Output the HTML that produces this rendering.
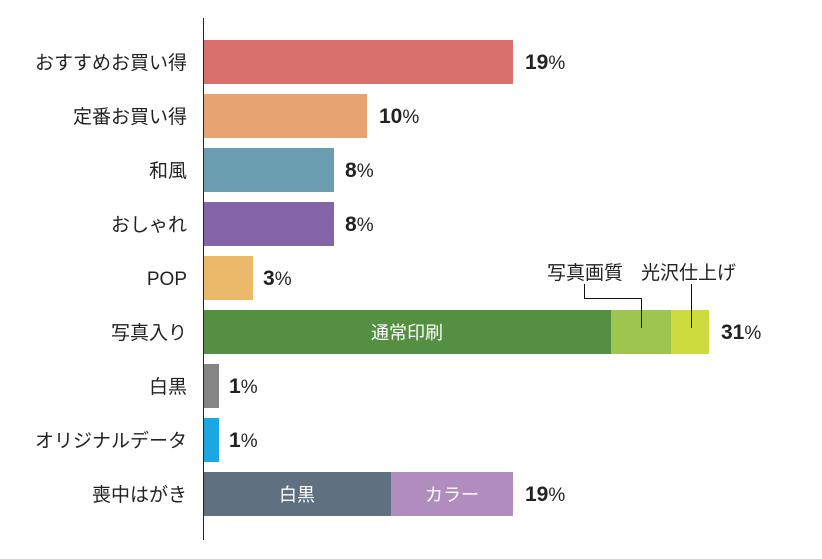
<!DOCTYPE html><html><head><meta charset="utf-8"><style>
body{margin:0;background:#fff;width:822px;height:554px;overflow:hidden}
svg text{font-family:"Liberation Sans","Noto Sans CJK JP",sans-serif}
</style></head><body>
<svg width="822" height="554" xmlns="http://www.w3.org/2000/svg">
<g font-size="19" fill="#222" text-anchor="end">
<text x="187" y="69">おすすめお買い得</text>
<text x="187" y="123">定番お買い得</text>
<text x="187" y="177">和風</text>
<text x="187" y="231">おしゃれ</text>
<text x="187" y="285">POP</text>
<text x="187" y="339">写真入り</text>
<text x="187" y="393">白黒</text>
<text x="187" y="447">オリジナルデータ</text>
<text x="187" y="501">喪中はがき</text>
</g>
<rect x="203" y="40" width="310" height="44" fill="#d9706c"/>
<rect x="203" y="94" width="164" height="44" fill="#e6a472"/>
<rect x="203" y="148" width="131" height="44" fill="#6b9db0"/>
<rect x="203" y="202" width="131" height="44" fill="#8466a8"/>
<rect x="203" y="256" width="50" height="44" fill="#ecb96a"/>
<rect x="203" y="310" width="408" height="44" fill="#558f41"/>
<rect x="611" y="310" width="60" height="44" fill="#9ec64e"/>
<rect x="671" y="310" width="38" height="44" fill="#cddb3e"/>
<rect x="203" y="364" width="16" height="44" fill="#858585"/>
<rect x="203" y="418" width="16" height="44" fill="#1ba7e1"/>
<rect x="203" y="472" width="188" height="44" fill="#5f7180"/>
<rect x="391" y="472" width="122" height="44" fill="#b08cbf"/>
<line x1="203.5" y1="18" x2="203.5" y2="540" stroke="#222" stroke-width="1"/>
<g font-size="18" fill="#fff" text-anchor="middle">
<text x="407" y="339">通常印刷</text>
<text x="297" y="501">白黒</text>
<text x="452" y="501">カラー</text>
</g>
<g font-size="19" fill="#222">
<text x="547" y="279">写真画質</text>
<text x="641" y="279">光沢仕上げ</text>
</g>
<polyline points="584.5,284 584.5,298.5 641.5,298.5 641.5,328" fill="none" stroke="#111" stroke-width="1"/>
<line x1="691.5" y1="284" x2="691.5" y2="328" stroke="#111" stroke-width="1"/>
<g fill="#222" font-size="21" font-weight="bold">
<text x="525" y="69">19<tspan font-size="19" font-weight="normal">%</tspan></text>
<text x="379" y="123">10<tspan font-size="19" font-weight="normal">%</tspan></text>
<text x="345" y="177">8<tspan font-size="19" font-weight="normal">%</tspan></text>
<text x="345" y="231">8<tspan font-size="19" font-weight="normal">%</tspan></text>
<text x="263" y="285">3<tspan font-size="19" font-weight="normal">%</tspan></text>
<text x="721" y="339">31<tspan font-size="19" font-weight="normal">%</tspan></text>
<text x="229" y="393">1<tspan font-size="19" font-weight="normal">%</tspan></text>
<text x="229" y="447">1<tspan font-size="19" font-weight="normal">%</tspan></text>
<text x="525" y="501">19<tspan font-size="19" font-weight="normal">%</tspan></text>
</g>
</svg>
</body></html>
